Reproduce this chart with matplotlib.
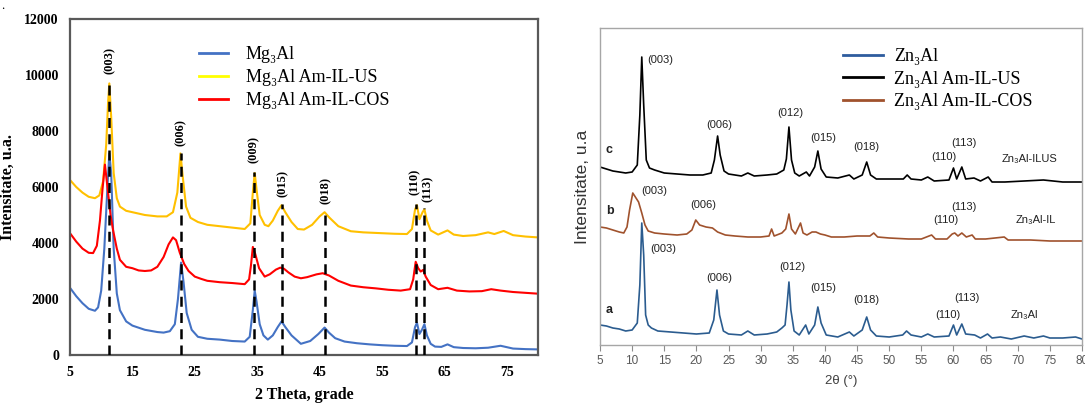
import matplotlib
matplotlib.use("Agg")
import matplotlib.pyplot as plt
from matplotlib.lines import Line2D

# ---------------- Left panel data (Mg3Al) ----------------
mg_x = [5, 6, 7, 8, 9, 9.5, 10, 10.5, 11, 11.3, 11.6, 12, 12.5, 13, 14, 15, 17, 19, 20, 21, 21.8, 22.3,
        22.8, 23.2, 23.7, 24.5, 25.5, 27, 29, 31, 33, 33.8, 34.3, 34.6, 34.9, 35.4, 36, 36.7, 37.5, 38.3,
        38.9, 39.5, 40.5, 42, 43.5, 44.8, 45.8, 46.5, 47.5, 49, 51, 53, 55, 57, 59, 59.8, 60.3, 60.6,
        61.0, 61.4, 61.8, 62.2, 62.8, 63.5, 64.5, 65.5, 66.5, 68, 70, 72, 74, 75, 76, 78, 80]
mg_y = [2400, 2100, 1850, 1650, 1580, 1700, 2300, 3800, 6000, 7200, 6500, 3800, 2200, 1600, 1200, 1050,
        900, 820, 800, 850, 1100, 2000, 3300, 2600, 1500, 900, 650, 580, 550, 500, 480, 650, 1600, 2300,
        1900, 1100, 700, 550, 700, 1000, 1200, 1000, 700, 400, 500, 750, 980, 800, 600, 480, 420, 380,
        350, 330, 320, 450, 1000, 1150, 750, 900, 1100, 700, 400, 300, 290, 380, 280, 250, 240, 260,
        330, 280, 230, 210, 200]

cos_x = [5, 6, 7, 8, 8.7, 9.3, 9.8, 10.2, 10.6, 11.0, 11.5, 11.9, 12.5, 13, 14, 15, 16, 17, 18, 19, 20,
         20.8, 21.5, 22.0, 22.6, 23.3, 24, 25, 26, 27, 29, 31, 33, 33.7, 34.0, 34.3, 34.7, 35.3, 36.2,
         37.0, 38.0, 38.7, 39.3, 40, 41, 42, 43, 44.5, 45.5, 46.5, 48, 50, 52, 54, 56, 58, 59.5, 60.0,
         60.4, 60.8, 61.2, 61.6, 62, 62.8, 64, 65.5, 67, 69, 71, 72.5, 74, 76, 78, 80]
cos_y = [4350, 4050, 3800, 3650, 3640, 3900, 4800, 5900, 6800, 6000, 5000, 4460, 3800, 3400, 3150,
         3100, 3020, 3000, 3020, 3150, 3500, 3950, 4200, 4100, 3650, 3250, 3000, 2800, 2720, 2650,
         2600, 2570, 2530, 2700, 3200, 3860, 3600, 3100, 2800, 2880, 3050, 3120, 3080, 2950, 2800,
         2740, 2780, 2880, 2920, 2840, 2650, 2480, 2420, 2380, 2330, 2300, 2350, 2700, 3330, 3100,
         2980, 3040, 2800, 2500, 2350, 2400, 2300, 2270, 2280, 2350, 2300, 2250, 2220, 2190]

us_x = [5, 6, 7, 8, 9, 9.7, 10.3, 10.8, 11.1, 11.3, 11.6, 12, 12.5, 13, 14, 15, 17, 19, 20.5, 21.5, 22.2,
        22.7, 23.1, 23.6, 24.3, 25.5, 27, 29, 31, 33, 33.9, 34.3, 34.6, 34.9, 35.4, 36.2, 36.8, 37.5,
        38.3, 38.9, 39.5, 40.5, 41.5, 42.5, 43.8, 45, 45.8, 46.6, 48, 50, 52, 55, 57, 59, 59.8, 60.3,
        60.6, 61.0, 61.5, 61.8, 62.2, 62.8, 64, 65.5, 66.5, 68, 70, 72, 73, 74.5, 76, 78, 80]
us_y = [6250, 6000, 5800, 5650, 5600, 5700, 6200, 7500, 9000, 9700, 8500, 6500, 5600, 5300, 5150, 5100,
        5000, 4950, 4950, 5100, 5800, 7200, 6300, 5300, 4900, 4750, 4650, 4600, 4550, 4500, 4700, 5800,
        6500, 5900, 5000, 4650, 4600, 4800, 5150, 5350, 5100, 4750, 4500, 4480, 4650, 4950, 5100, 4900,
        4600, 4420, 4380, 4350, 4330, 4320, 4500, 5200, 5350, 4850, 5100, 5200, 4800, 4450, 4300, 4450,
        4300, 4250, 4280, 4380, 4320, 4430, 4280, 4230, 4200]

mg_peaks = ["(003)", "(006)", "(009)", "(015)", "(018)", "(110)", "(113)"]
mg_peak_x = [11.3, 22.8, 34.5, 38.9, 45.8, 60.4, 61.7]
mg_peak_top = [9750, 7200, 6550, 5400, 5150, 5400, 5250]
mg_label_x = [11.3, 22.8, 34.5, 39.1, 46.0, 60.3, 62.3]
mg_label_y = [10050, 7450, 6850, 5650, 5400, 5700, 5450]

mg_xticks = [5, 15, 25, 35, 45, 55, 65, 75]
mg_yticks = [0, 2000, 4000, 6000, 8000, 10000, 12000]
mg_labels = ["Mg\u2083Al", "Mg\u2083Al Am-IL-US", "Mg\u2083Al Am-IL-COS"]

# ---------------- Right panel data (Zn3Al) ----------------
a_x = [5, 6, 7, 8, 9, 10, 10.8, 11.2, 11.5, 11.8, 12.1, 12.5, 13, 14, 16, 18, 20, 22, 22.7, 23.2, 23.6,
       24.2, 25, 27, 28, 29, 31, 32.5, 33.3, 33.8, 34.1, 34.4, 34.7, 35.2, 36, 37, 37.5, 38.4, 38.9,
       39.4, 40.2, 42, 43.8, 44.5, 45.8, 46.5, 47.1, 48, 50, 52.1, 52.7, 53.4, 55, 56, 57, 59.3, 60,
       60.5, 61.3, 61.9, 63.3, 64.2, 65.3, 66, 67.3, 69, 71, 72.5, 74, 75, 77, 79, 80]
a_y = [20, 19, 17, 16, 14, 15, 22, 60, 122, 90, 30, 20, 17, 14, 13, 12, 11, 12, 25, 55, 30, 14, 11, 10,
       14, 10, 11, 13, 17, 20, 40, 63, 35, 14, 10, 20, 11, 20, 38, 22, 10, 8, 13, 9, 15, 28, 15, 9, 8,
       10, 14, 10, 8, 11, 8, 9, 20, 10, 21, 11, 10, 7, 11, 7, 8, 6, 9, 7, 9, 7, 7, 8, 6]

b_x = [5, 6, 7, 8, 8.7, 9.2, 9.6, 10.1, 10.5, 11, 11.5, 12, 12.5, 13.5, 15, 17, 18.5, 19.3, 19.9, 20.5,
       21.5, 22.5, 23.3, 24.5, 26, 28, 30, 31.3, 31.7, 32.1, 33.3, 33.9, 34.4, 34.8, 35.4, 36.2, 36.6,
       37.2, 38, 38.6, 39.3, 40, 41, 43, 45, 47, 47.6, 48.2, 50, 53, 55, 56.6, 57.2, 59, 59.8, 60.2,
       60.7, 61.3, 62, 62.9, 63.4, 65, 67.9, 68.5, 70, 72, 75, 78, 80]
b_y = [118, 117, 115, 113, 112, 118, 135, 152, 148, 143, 132, 120, 114, 112, 111, 110, 111, 115, 125,
       120, 118, 117, 113, 110, 109, 108, 108, 109, 116, 109, 112, 116, 131, 116, 111, 122, 112, 110,
       113, 113, 111, 110, 108, 108, 109, 109, 112, 108, 107, 106, 106, 110, 106, 106, 111, 112, 109,
       112, 108, 110, 106, 106, 108, 105, 105, 105, 104, 104, 104]

c_x = [5, 6, 7, 8, 9, 10, 10.8, 11.2, 11.5, 11.8, 12.2, 12.7, 13.5, 15, 17, 19, 21, 22.3, 22.8, 23.3,
       23.7, 24.3, 25, 27, 28, 29, 31, 32.5, 33.6, 34.0, 34.4, 34.8, 35.3, 36, 37.1, 37.6, 38.4, 38.9,
       39.4, 40.2, 42, 43.8, 44.5, 45.8, 46.5, 47.1, 48, 50, 52.2, 52.8, 53.4, 55, 56, 57, 59.3, 60,
       60.5, 61.3, 61.9, 63.2, 64.2, 65.4, 66, 68, 71, 74, 77, 80]
c_y = [178, 176, 174, 173, 172, 173, 180, 230, 288, 240, 185, 177, 175, 172, 171, 170, 170, 172, 185,
       209, 190, 174, 171, 169, 172, 169, 170, 171, 175, 186, 218, 185, 172, 169, 173, 169, 178, 194,
       176, 168, 167, 170, 166, 170, 183, 170, 166, 166, 166, 170, 166, 165, 168, 164, 165, 177, 166,
       178, 166, 167, 164, 168, 163, 163, 164, 165, 163, 163]

zn_labels = ["Zn\u2083Al", "Zn\u2083Al Am-IL-US", "Zn\u2083Al Am-IL-COS"]
zn_xticks = list(range(5, 81, 5))

# annotations: (text, x, y)
c_notes = [("c", 6.4, 195), ("(003)", 14.4, 285), ("(006)", 23.5, 220), ("(012)", 34.6, 232),
           ("(015)", 39.8, 207), ("(018)", 46.5, 198), ("(110)", 58.5, 188), ("(113)", 61.6, 202),
           ("Zn\u2083Al-ILUS", 71.9, 186)]
b_notes = [("b", 6.6, 134), ("(003)", 13.4, 154), ("(006)", 21.0, 140), ("(110)", 58.8, 125),
           ("(113)", 61.6, 138), ("Zn\u2083Al-IL", 72.8, 125)]
a_notes = [("a", 6.4, 35), ("(003)", 14.8, 96), ("(006)", 23.5, 67), ("(012)", 34.9, 78),
           ("(015)", 39.8, 57), ("(018)", 46.5, 45), ("(110)", 59.1, 30), ("(113)", 62.1, 47),
           ("Zn\u2083Al", 71.1, 30)]

# ---------------- Figure ----------------
W, H = 1085, 403
fig = plt.figure(figsize=(W / 100, H / 100), dpi=100)
serif = ["Liberation Serif", "DejaVu Serif"]
sans = ["Liberation Sans", "DejaVu Sans"]

fig.text(0.001, 0.999, ".", ha="left", va="top", fontsize=9, family=serif)

# Left axes
axL = fig.add_axes([70 / W, 1 - 355 / H, 468 / W, 336 / H])
blue_L, yel_L, red_L = "#4472C4", "#FFC000", "#FF0000"
axL.plot(mg_x, mg_y, color=blue_L, lw=1.5)
axL.plot(us_x, us_y, color=yel_L, lw=1.5)
axL.plot(cos_x, cos_y, color=red_L, lw=1.5)
for px, top in zip(mg_peak_x, mg_peak_top):
    axL.plot([px, px], [0, top], color="black", lw=1.8, ls=(0, (4, 2.5)), zorder=5)
for lab, lx, ly in zip(mg_peaks, mg_label_x, mg_label_y):
    axL.text(lx, ly, lab, rotation=90, ha="center", va="bottom", fontsize=9,
             fontweight="bold", family=serif)
axL.set_xlim(5, 80)
axL.set_ylim(0, 12000)
axL.set_xticks(mg_xticks)
axL.set_yticks(mg_yticks)
axL.tick_params(length=0, labelsize=10, pad=8)
for t in axL.get_xticklabels() + axL.get_yticklabels():
    t.set_family(serif)
    t.set_fontweight("bold")
for s in axL.spines.values():
    s.set_color("#595959")
    s.set_linewidth(1.6)
axL.set_xlabel("2 Theta, grade", fontsize=11.5, fontweight="bold", family=serif, labelpad=6)
axL.set_ylabel("Intensitate, u.a.", fontsize=11.5, fontweight="bold", family=serif, labelpad=6)
hL = [Line2D([], [], color=blue_L, lw=2), Line2D([], [], color="#FFFF00", lw=2),
      Line2D([], [], color=red_L, lw=2)]
axL.legend(hL, mg_labels, loc="upper left", bbox_to_anchor=(0.26, 0.94), frameon=False,
           prop={"family": serif, "size": 13}, handlelength=1.6, handletextpad=1.0,
           labelspacing=0.32, borderaxespad=0)

# Right axes
axR = fig.add_axes([600 / W, 1 - 345 / H, 482 / W, 317 / H])
blue_R, black_R, brown_R = "#2B5C8F", "#000000", "#A0522D"
axR.plot(a_x, a_y, color=blue_R, lw=1.2)
axR.plot(b_x, b_y, color=brown_R, lw=1.2)
axR.plot(c_x, c_y, color=black_R, lw=1.2)
for notes in (c_notes, b_notes, a_notes):
    for txt, tx, ty in notes:
        bold = txt in ("a", "b", "c")
        axR.text(tx, ty, txt, ha="center", va="center", fontsize=8 if not bold else 9,
                 fontweight="bold" if bold else "normal", family=sans, color="#222222")
axR.set_xlim(5, 80)
axR.set_ylim(0, 317)
axR.set_xticks(zn_xticks)
axR.set_yticks([])
axR.tick_params(axis="x", direction="out", length=4, color="#8C8C8C", labelsize=8.5,
                labelcolor="#595959", pad=3)
for t in axR.get_xticklabels():
    t.set_family(sans)
for s in axR.spines.values():
    s.set_color("#A6A6A6")
    s.set_linewidth(1.0)
axR.set_xlabel("2\u03b8 (\u00b0)", fontsize=9.5, family=sans, color="#404040", labelpad=6)
axR.set_ylabel("Intensitate, u.a", fontsize=12.5, family=sans, color="#333333", labelpad=7)
hR = [Line2D([], [], color="#2E5C9E", lw=2), Line2D([], [], color=black_R, lw=2),
      Line2D([], [], color=brown_R, lw=2)]
axR.legend(hR, zn_labels, loc="upper left", bbox_to_anchor=(0.49, 0.96), frameon=False,
           prop={"family": serif, "size": 13}, handlelength=2.2, handletextpad=0.6,
           labelspacing=0.32, borderaxespad=0)

fig.savefig("out.png", dpi=100)
